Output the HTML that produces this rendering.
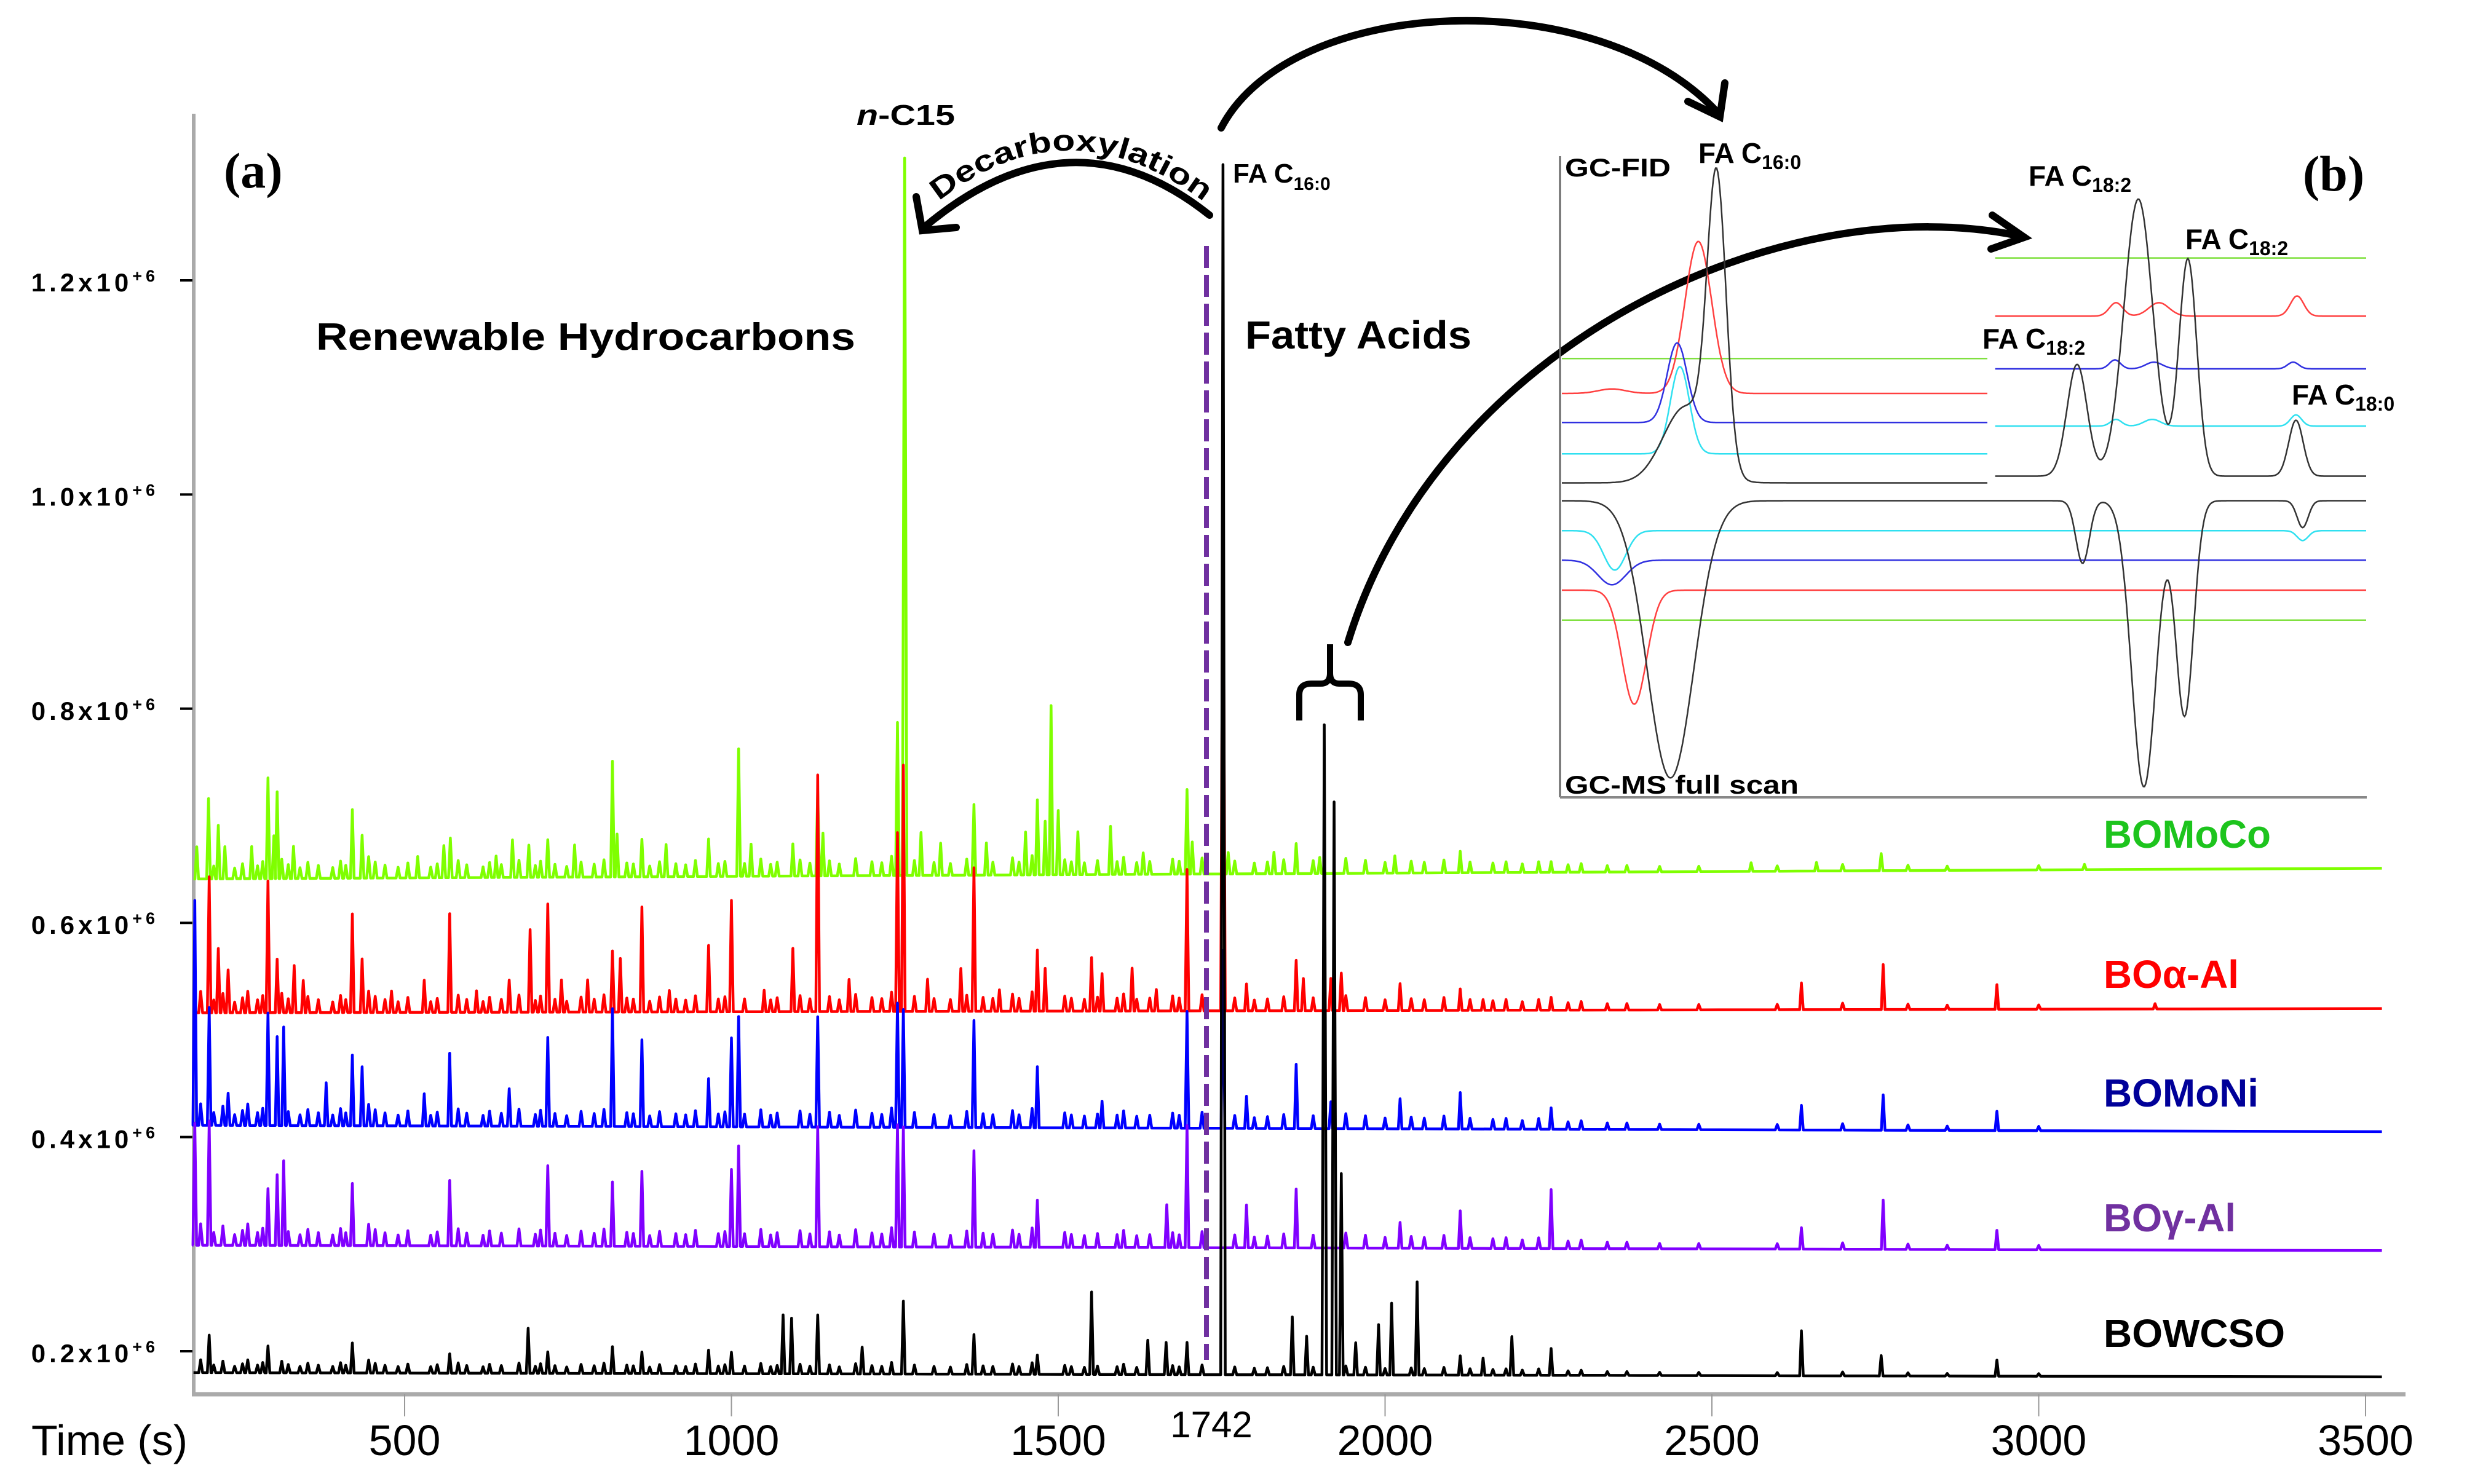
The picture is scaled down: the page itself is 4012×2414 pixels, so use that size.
<!DOCTYPE html>
<html><head><meta charset="utf-8"><style>
html,body{margin:0;padding:0;background:#fff;}
svg{display:block;font-family:"Liberation Sans",Arial,sans-serif;}
</style></head><body>
<svg id="chart" width="4012" height="2414" viewBox="0 0 4012 2414" xmlns="http://www.w3.org/2000/svg">
<rect width="4012" height="2414" fill="#fff"/>
<g id="axes">
  <line x1="315" y1="185" x2="315" y2="2270" stroke="#aaa" stroke-width="6"/>
  <line x1="312" y1="2268" x2="3912" y2="2268" stroke="#aaa" stroke-width="7"/>
</g>
<g id="yticks"></g>
<g id="xticks"></g>
<g id="traces"></g>
<line x1="1962" y1="400" x2="1962" y2="2212" stroke="#7030a0" stroke-width="8" stroke-dasharray="36 11"/>

<text x="364" y="305" font-family="Liberation Serif,serif" font-weight="bold" font-size="82">(a)</text>
<text x="514" y="569" font-weight="bold" font-size="62" textLength="877" lengthAdjust="spacingAndGlyphs">Renewable Hydrocarbons</text>
<text x="2025" y="567" font-weight="bold" font-size="64" textLength="368" lengthAdjust="spacingAndGlyphs">Fatty Acids</text>
<text x="1393" y="203" font-weight="bold" font-size="46" textLength="160" lengthAdjust="spacingAndGlyphs"><tspan font-style="italic">n</tspan>-C15</text>
<text x="2005" y="297" font-weight="bold" font-size="44">FA C<tspan font-size="30" dy="12">16:0</tspan></text>
<path id="decarbPath" d="M1500,350 Q1735,140 1985,350" fill="none" stroke="none"/>
<text font-weight="bold" font-size="48"><textPath href="#decarbPath" startOffset="35" textLength="470" lengthAdjust="spacingAndGlyphs">Decarboxylation</textPath></text>

<g fill="none" stroke="#000" stroke-width="12" stroke-linecap="round">
  <path d="M1967,350 Q1742,170 1505,368"/>
  <path d="M1490,320 L1500,375 L1555,370"/>
  <path d="M1986,208 C2100,-10 2600,-30 2795,185"/>
  <path d="M2745,165 L2797,190 L2805,135"/>
  <path d="M2192,1045 C2340,560 2900,300 3290,385"/>
  <path d="M3240,350 L3292,386 L3238,405"/>
  <path d="M2113,1172 V1130 Q2113,1112 2133,1112 H2148 Q2163,1112 2163,1095 V1048 M2163,1095 Q2163,1112 2178,1112 H2193 Q2213,1112 2213,1130 V1172" stroke-width="10" stroke-linecap="butt"/>
</g>

<g id="inset">
  <line x1="2537" y1="254" x2="2537" y2="1297" stroke="#666" stroke-width="3"/>
  <line x1="2537" y1="1297" x2="3849" y2="1297" stroke="#888" stroke-width="4"/>
  <g id="insetTraces"></g>
  <text x="2545" y="287" font-weight="bold" font-size="42" textLength="172" lengthAdjust="spacingAndGlyphs">GC-FID</text>
  <text x="2762" y="265" font-weight="bold" font-size="46">FA C<tspan font-size="32" dy="10">16:0</tspan></text>
  <text x="3299" y="302" font-weight="bold" font-size="46">FA C<tspan font-size="32" dy="10">18:2</tspan></text>
  <text x="3554" y="405" font-weight="bold" font-size="46">FA C<tspan font-size="32" dy="10">18:2</tspan></text>
  <text x="3224" y="567" font-weight="bold" font-size="46">FA C<tspan font-size="32" dy="10">18:2</tspan></text>
  <text x="3727" y="658" font-weight="bold" font-size="46">FA C<tspan font-size="32" dy="10">18:0</tspan></text>
  <text x="2545" y="1291" font-weight="bold" font-size="42" textLength="380" lengthAdjust="spacingAndGlyphs">GC-MS full scan</text>
  <text x="3745" y="310" font-family="Liberation Serif,serif" font-weight="bold" font-size="82">(b)</text>
</g>

<g font-weight="bold" font-size="64">
  <text x="3421" y="1379" fill="#1dc41d" textLength="272" lengthAdjust="spacingAndGlyphs">BOMoCo</text>
  <text x="3421" y="1607" fill="#ff0000" textLength="220" lengthAdjust="spacingAndGlyphs">BOα-Al</text>
  <text x="3421" y="1800" fill="#000099" textLength="252" lengthAdjust="spacingAndGlyphs">BOMoNi</text>
  <text x="3421" y="2003" fill="#7030a0" textLength="215" lengthAdjust="spacingAndGlyphs">BOγ-Al</text>
  <text x="3421" y="2191" fill="#000" textLength="295" lengthAdjust="spacingAndGlyphs">BOWCSO</text>
</g>
<text x="51" y="2367" font-size="70">Time (s)</text>
<text x="1970" y="2338" font-size="60" text-anchor="middle">1742</text>
</svg>
<script>
// ---- data ----
const xTicks=[500,1000,1500,2000,2500,3000,3500];
const yTicks=[0.2,0.4,0.6,0.8,1.0,1.2];
const yTickLabels=["0.2x10","0.4x10","0.6x10","0.8x10","1.0x10","1.2x10"];
const seriesNames=["BOMoCo","BOα-Al","BOMoNi","BOγ-Al","BOWCSO"];
const seriesColors=["#7fff00","#ff0000","#0000ff","#8000ff","#000000"];
const baseStart=[0.641,0.516,0.411,0.299,0.18];
const baseEnd=[0.651,0.52,0.405,0.294,0.176];
const greenT=[182,200,215,225,266,291,300,305,330,420,435,520,560,570,640,665,690,719,760,818,825,863,900,965,1011,1030,1094,1132,1140,1254,1265,1290,1320,1371,1390,1450,1468,1480,1489,1500,1530,1580,1630,1697,1705,1760,1830,1864,1900,2015,2115,2254,2560,2660,2759,3070];
const greenH=[0.03,0.075,0.05,0.03,0.03,0.094,0.04,0.081,0.03,0.064,0.04,0.02,0.03,0.037,0.02,0.035,0.03,0.035,0.03,0.108,0.04,0.035,0.03,0.035,0.119,0.03,0.03,0.079,0.04,0.143,0.67,0.04,0.03,0.066,0.03,0.04,0.07,0.05,0.158,0.06,0.04,0.045,0.02,0.079,0.03,0.02,0.02,0.028,0.015,0.016,0.02,0.01,0.008,0.008,0.016,0.005];
const redT=[201,215,230,291,305,331,345,420,435,480,530,569,610,660,692,719,740,780,818,830,863,905,965,1000,1050,1094,1132,1180,1254,1263,1300,1351,1371,1410,1468,1480,1551,1567,1613,1650,1697,1752,1788,1864,1875,1917,1933,2023,2115,2150,2254,2637,2762,2936,3178];
const redH=[0.127,0.06,0.04,0.123,0.05,0.044,0.03,0.092,0.05,0.02,0.03,0.092,0.02,0.03,0.077,0.101,0.03,0.03,0.057,0.05,0.098,0.02,0.062,0.104,0.02,0.059,0.221,0.03,0.167,0.23,0.03,0.04,0.134,0.02,0.057,0.04,0.05,0.035,0.04,0.02,0.132,0.484,0.025,0.047,0.03,0.03,0.035,0.025,0.02,0.01,0.012,0.025,0.042,0.023,0.005];
const blueT=[179,201,230,291,305,315,380,420,435,530,569,660,719,818,863,965,1000,1011,1132,1254,1263,1371,1468,1567,1697,1752,1788,1864,1917,2023,2115,2254,2637,2762,2936];
const blueH=[0.21,0.11,0.03,0.105,0.083,0.092,0.04,0.066,0.055,0.03,0.068,0.035,0.083,0.11,0.081,0.045,0.083,0.103,0.103,0.116,0.11,0.1,0.057,0.025,0.109,0.166,0.03,0.06,0.025,0.028,0.034,0.02,0.023,0.033,0.018];
const purpleT=[179,201,291,305,315,420,569,719,818,863,1000,1011,1132,1254,1263,1371,1468,1666,1697,1788,1864,2023,2115,2254,2637,2762,2936];
const purpleH=[0.114,0.116,0.053,0.066,0.079,0.058,0.061,0.075,0.06,0.07,0.072,0.094,0.112,0.114,0.112,0.09,0.044,0.04,0.114,0.04,0.055,0.024,0.035,0.055,0.02,0.046,0.018];
const blackT=[201,291,420,569,689,719,818,863,965,1000,1079,1092,1132,1200,1263,1371,1468,1551,1637,1665,1697,1752,1858,1880,1907,1922,1933,1955,1990,2010,2049,2115,2150,2194,2254,2637,2759,2936];
const blackH=[0.035,0.025,0.028,0.018,0.042,0.02,0.025,0.02,0.022,0.02,0.055,0.052,0.055,0.025,0.068,0.037,0.018,0.077,0.032,0.03,0.03,1.13,0.054,0.036,0.607,0.535,0.188,0.03,0.047,0.067,0.087,0.018,0.016,0.036,0.025,0.042,0.019,0.015];
// minor (noise-level) peaks shared by the hydrocarbon region of every trace
const minorT=[188,194,208,222,240,252,260,275,283,312,322,340,352,368,390,402,410,445,455,470,490,505,540,550,582,595,620,630,648,675,700,708,730,748,770,790,805,840,850,875,890,915,930,945,980,990,1020,1045,1060,1070,1105,1120,1150,1165,1190,1215,1230,1245,1280,1310,1335,1360,1385,1400,1430,1440,1460,1510,1520,1540,1560,1590,1600,1620,1640,1675,1685,1720,1770,1800,1820,1845,1890,1940,1970,2000,2040,2060,2090,2130,2165,2185,2210,2235,2280,2300,2340,2370,2420,2480,2600,2700,2800,2860,3000];
const minorH=[0.02,0.015,0.012,0.018,0.01,0.014,0.02,0.012,0.016,0.018,0.013,0.01,0.015,0.012,0.01,0.016,0.012,0.02,0.015,0.012,0.01,0.014,0.01,0.013,0.016,0.012,0.01,0.014,0.012,0.016,0.011,0.015,0.012,0.01,0.014,0.012,0.016,0.013,0.012,0.01,0.014,0.012,0.011,0.015,0.012,0.014,0.012,0.016,0.011,0.013,0.015,0.012,0.014,0.011,0.016,0.013,0.012,0.018,0.014,0.012,0.011,0.015,0.013,0.012,0.016,0.012,0.018,0.014,0.012,0.011,0.013,0.012,0.016,0.011,0.012,0.014,0.012,0.015,0.012,0.01,0.011,0.013,0.012,0.014,0.012,0.01,0.011,0.01,0.012,0.01,0.009,0.01,0.008,0.01,0.007,0.008,0.006,0.006,0.005,0.005,0.005,0.006,0.005,0.004,0.004];

// ---- scales ----
const NS="http://www.w3.org/2000/svg";
const X=t=>658+(t-500)*1.063;
const Y=v=>2198-(v-0.2)*1742;
const IX=z=>2540+z/1.104;
const IY=z=>200+z/1.375;
const T0=177,T1=3525;

const yg=document.getElementById('yticks');
yTicks.forEach((v,i)=>{
  const l=document.createElementNS(NS,'line');
  l.setAttribute('x1',293);l.setAttribute('x2',313);l.setAttribute('y1',Y(v));l.setAttribute('y2',Y(v));
  l.setAttribute('stroke','#000');l.setAttribute('stroke-width','4');
  
  
  yg.appendChild(l);
  const t=document.createElementNS(NS,'text');
  t.setAttribute('x',258);t.setAttribute('y',Y(v)+18);t.setAttribute('text-anchor','end');
  t.setAttribute('font-weight','bold');t.setAttribute('font-size','42');t.setAttribute('letter-spacing','6');
  t.innerHTML=yTickLabels[i]+'<tspan font-size="27" dy="-16">+6</tspan>';
  
  
  yg.appendChild(t);
});
const xg=document.getElementById('xticks');
xTicks.forEach(v=>{
  const l=document.createElementNS(NS,'line');
  l.setAttribute('x1',X(v));l.setAttribute('x2',X(v));l.setAttribute('y1',2268);l.setAttribute('y2',2304);
  l.setAttribute('stroke','#999');l.setAttribute('stroke-width','2');
  
  
  xg.appendChild(l);
  const t=document.createElementNS(NS,'text');
  t.setAttribute('x',X(v));t.setAttribute('y',2367);t.setAttribute('text-anchor','middle');t.setAttribute('font-size','70');
  t.textContent=v;
  
  
  xg.appendChild(t);
});

const allT=[greenT,redT,blueT,purpleT,blackT];
const allH=[greenH,redH,blueH,purpleH,blackH];
const minorScale=[1,1,1,1,0.6];
const tg=document.getElementById('traces');
for(let s=0;s<5;s++){
  const ts=allT[s],hs=allH[s];
  const n=Math.min(ts.length,hs.length);
  const pk=[];for(let i=0;i<n;i++)pk.push([ts[i],hs[i],1]);
  const mn=Math.min(minorT.length,minorH.length);
  for(let i=0;i<mn;i++){
    const t=minorT[i];
    if(pk.some(p=>Math.abs(p[0]-t)<7))continue;
    pk.push([t,minorH[i]*minorScale[s],0]);
  }
  pk.sort((a,b)=>a[0]-b[0]);
  const base=t=>baseStart[s]+(baseEnd[s]-baseStart[s])*(t-T0)/(T1-T0);
  let d='M'+X(T0).toFixed(1)+','+Y(base(T0)).toFixed(1);
  pk.forEach(([t,h,major])=>{
    const w=h>0.3?3.5:(major?2.8:3);
    d+=' L'+X(t-w).toFixed(1)+','+Y(base(t-w)).toFixed(1);
    d+=' L'+X(t).toFixed(1)+','+Y(base(t)+h).toFixed(1);
    d+=' L'+X(t+w).toFixed(1)+','+Y(base(t+w)).toFixed(1);
  });
  d+=' L'+X(T1).toFixed(1)+','+Y(base(T1)).toFixed(1);
  const p=document.createElementNS(NS,'path');
  p.setAttribute('d',d);p.setAttribute('fill','none');p.setAttribute('stroke',seriesColors[s]);
  p.setAttribute('stroke-width','4.5');p.setAttribute('stroke-linejoin','round');
  
  
  tg.appendChild(p);
}

// inset data (inset-local units)
const insetColors=["#80e040","#ff4040","#3030e0","#30e0f0","#333333"];
const fidLeftBase=[527,605,670,740,805];
const fidLeftPeaks=[[],[[90,10,25],[245,340,24]],[[207,178,18]],[[212,195,17]],[[278,640,17],[222,170,40]]];
const fidRightBase=[302,432,550,678,790];
const fidRightPeaks=[[],[[995,30,12],[1072,30,18],[1320,45,12]],[[993,20,10],[1063,15,15],[1313,15,10]],[[995,15,10],[1060,15,15],[1318,25,10]],[[925,250,18],[1035,620,26],[1124,485,16],[1318,125,13]]];
const msBase=[1112,1045,978,912,845];
const msPeaks=[[],[[130,255,22]],[[90,55,25]],[[95,88,20],[1330,22,10]],[[195,620,42],[935,140,12],[1045,640,22],[1118,480,16],[1330,60,10]]];
const ig=document.getElementById('insetTraces');
function insetPath(x0,x1,base,peaks,dir,color,name){
  let d='';
  for(let z=x0;z<=x1;z+=2){
    let y=base;
    peaks.forEach(([c,h,w])=>{y+=dir*h*Math.exp(-0.5*((z-c)/w)**2);});
    d+=(d?' L':'M')+IX(z).toFixed(1)+','+IY(y).toFixed(1);
  }
  const p=document.createElementNS(NS,'path');
  p.setAttribute('d',d);p.setAttribute('fill','none');p.setAttribute('stroke',color);p.setAttribute('stroke-width','2.5');
  
  
  ig.appendChild(p);
}
for(let i=0;i<5;i++){
  insetPath(0,765,fidLeftBase[i],fidLeftPeaks[i],-1,insetColors[i],'fid-left-trace');
  insetPath(778,1445,fidRightBase[i],fidRightPeaks[i],-1,insetColors[i],'fid-right-trace');
  insetPath(0,1445,msBase[i],msPeaks[i],1,insetColors[i],'ms-trace');
}
</script>
</body></html>
